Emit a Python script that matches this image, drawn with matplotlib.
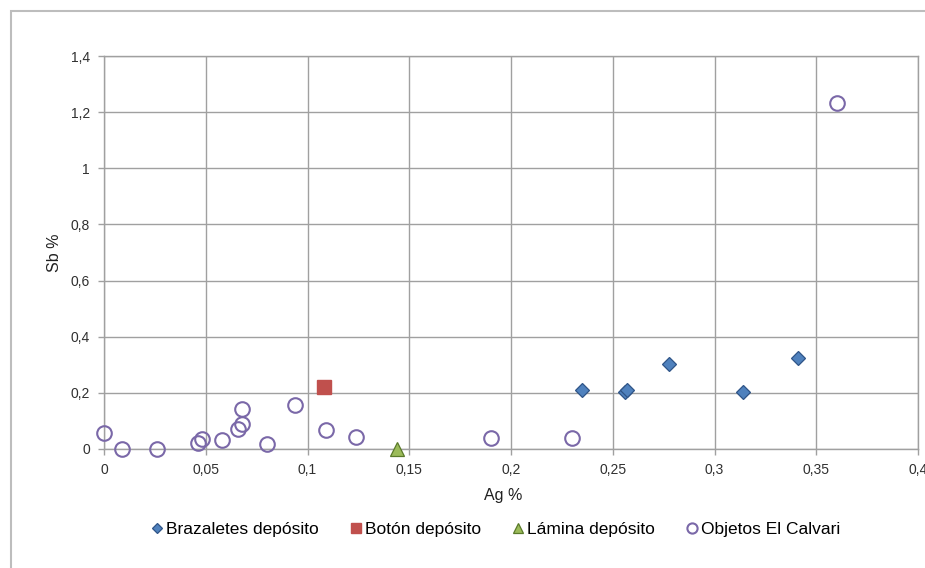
import matplotlib
matplotlib.use("Agg")
import matplotlib.pyplot as plt
from matplotlib.patches import Rectangle
from matplotlib.ticker import FuncFormatter, MultipleLocator

plt.rcParams['font.family'] = ['Liberation Sans', 'DejaVu Sans']

# Brazaletes depósito
braz_ag = [0.2347, 0.256, 0.257, 0.2775, 0.314, 0.341]
braz_sb = [0.21, 0.202, 0.21, 0.302, 0.202, 0.324]

# Botón depósito
boton_ag = [0.108]
boton_sb = [0.22]

# Lámina depósito
lamina_ag = [0.144]
lamina_sb = [0.0]

# Objetos El Calvari
calvari_ag = [0.0, 0.009, 0.026, 0.046, 0.048, 0.058, 0.066, 0.068, 0.068,
              0.080, 0.094, 0.109, 0.124, 0.190, 0.230, 0.360]
calvari_sb = [0.058, 0.0, 0.0, 0.02, 0.035, 0.032, 0.07, 0.088, 0.142,
              0.017, 0.157, 0.068, 0.044, 0.039, 0.04, 1.234]


def comma_fmt(v, pos):
    return ("%g" % round(v, 3)).replace(".", ",")


fig = plt.figure(figsize=(9.25, 5.68), dpi=100)
ax = fig.add_axes([104 / 925, 1 - 449 / 568, 814 / 925, 393 / 568])

# Outer chart border (right and bottom edges fall outside the image)
fig.patches.append(Rectangle((11 / 925, -0.2), 1.2, 0.2 + (1 - 11 / 568),
                             transform=fig.transFigure, fill=False,
                             edgecolor="#bdbdbd", linewidth=1.5))

ax.plot(braz_ag, braz_sb, linestyle="none", marker="D", markersize=7.5,
        markerfacecolor="#4f81bd", markeredgecolor="#2f5487", markeredgewidth=0.9,
        label="Brazaletes depósito", zorder=4, clip_on=False)
ax.plot(boton_ag, boton_sb, linestyle="none", marker="s", markersize=9.5,
        markerfacecolor="#c0504d", markeredgecolor="#c0504d",
        label="Botón depósito", zorder=4, clip_on=False)
ax.plot(lamina_ag, lamina_sb, linestyle="none", marker="^", markersize=10,
        markerfacecolor="#9bbb59", markeredgecolor="#5a7a2a", markeredgewidth=0.9,
        label="Lámina depósito", zorder=4, clip_on=False)
ax.plot(calvari_ag, calvari_sb, linestyle="none", marker="o", markersize=10.5,
        markerfacecolor="none", markeredgecolor="#7a68a8", markeredgewidth=1.5,
        label="Objetos El Calvari", zorder=4, clip_on=False)

ax.set_xlim(0, 0.4)
ax.set_ylim(0, 1.4)
ax.xaxis.set_major_locator(MultipleLocator(0.05))
ax.yaxis.set_major_locator(MultipleLocator(0.2))
ax.xaxis.set_major_formatter(FuncFormatter(comma_fmt))
ax.yaxis.set_major_formatter(FuncFormatter(comma_fmt))

ax.grid(True, color="#a0a0a0", linewidth=1.0)
ax.set_axisbelow(True)
for s in ax.spines.values():
    s.set_color("#a0a0a0")
    s.set_linewidth(1.0)
ax.tick_params(direction="out", length=4, width=1, color="#a0a0a0",
               labelsize=10, labelcolor="#303030", pad=6)

ax.set_xlabel("Ag %", fontsize=11.5, color="#202020")
ax.xaxis.set_label_coords(0.49, -0.098)
ax.set_ylabel("Sb %", fontsize=11.5, color="#202020")
ax.yaxis.set_label_coords(-0.052, 0.5)

fig.legend(loc="center", bbox_to_anchor=(496 / 925, 1 - 529 / 568), ncol=4,
           frameon=False, fontsize=12.5, markerscale=0.7, handlelength=0.6,
           handletextpad=0.25, columnspacing=1.8)

fig.savefig("out.png", dpi=100)
